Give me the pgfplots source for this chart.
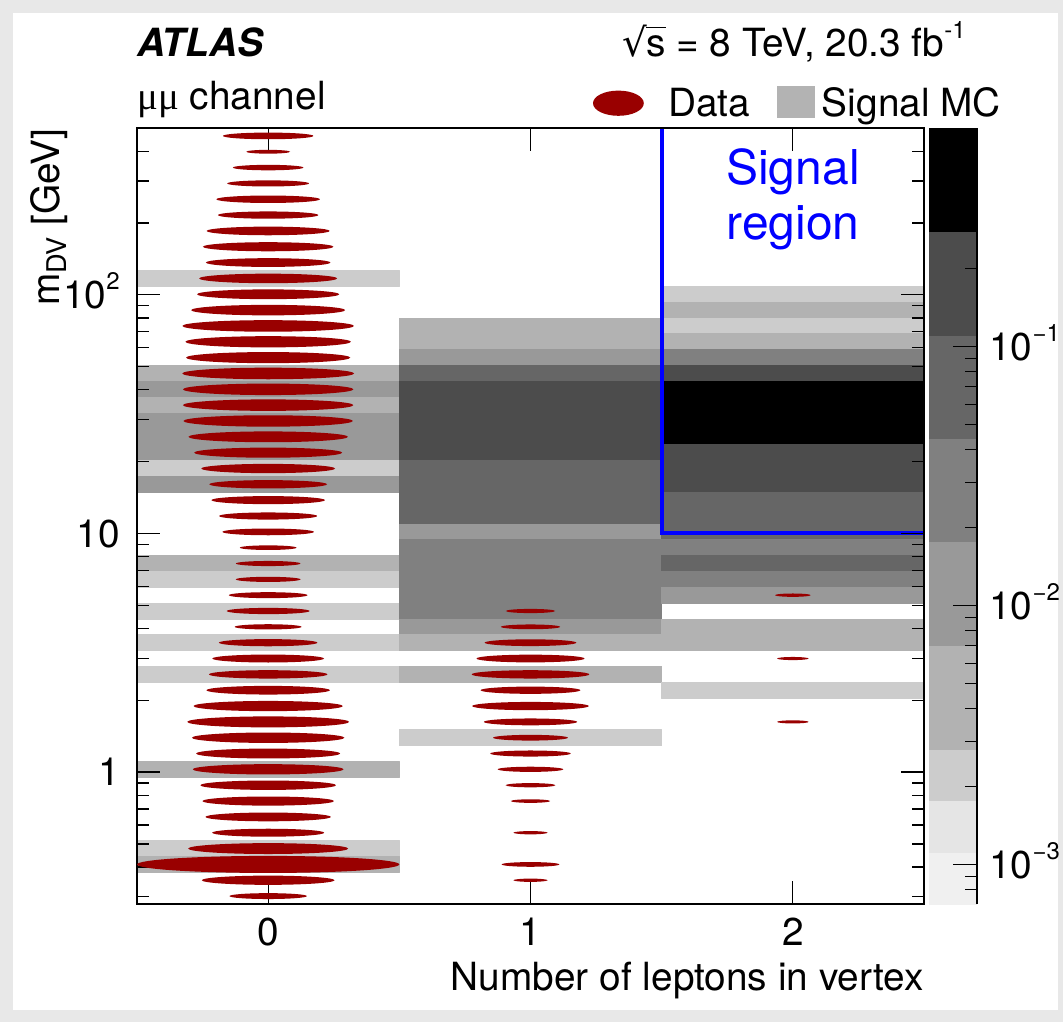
\documentclass[border=0pt]{standalone}
\usepackage{pgfplots}
\pgfplotsset{compat=1.18}
\usepgfplotslibrary{patchplots}
\usepackage{fontspec}
\setmainfont{TeX Gyre Heros}
\newfontfamily\symf{Liberation Serif}
\newfontfamily\djv{DejaVu Sans}
\definecolor{datared}{RGB}{153,0,0}
\definecolor{mcgray}{RGB}{179,179,179}
\definecolor{bgcol}{RGB}{232,232,232}
\newcommand\fs{\fontsize{19.4}{23}\selectfont}
\newcommand\sups[1]{\raisebox{0.48em}{\fontsize{12}{13}\selectfont #1}}
\pgfdeclareplotmark{ell}{%
  \pgfpathellipse{\pgfpointorigin}{\pgfpoint{\ellf*65.58pt}{0pt}}{\pgfpoint{0pt}{\ellf*3.96pt+0.3pt}}%
  \pgfusepathqfill}
\begin{document}
\begin{tikzpicture}[x=1pt,y=1pt]
\useasboundingbox (0,0) rectangle (531.5,511);
\fill[bgcol] (0,0) rectangle (531.5,511);
\fill[white] (6.5,6) rectangle (529,504.5);
\begin{axis}[
  at={(68.5pt,59pt)}, anchor=south west, scale only axis,
  width=393.5pt, height=388pt,
  xmin=-0.5, xmax=2.5, ymode=log, ymin=0.28, ymax=500,
  xtick={0,1,2}, xticklabels={0,1,2},
  ytick={1,10,100}, yticklabels={1,10,10\sups{2}},
  minor ytick={0.3,0.4,0.5,0.6,0.7,0.8,0.9,2,3,4,5,6,7,8,9,20,30,40,50,60,70,80,90,200,300,400},
  tick align=inside, major tick length=11.5pt, minor tick length=6pt,
  axis on top,
  axis line style={line width=0.9pt},
  every tick/.style={black, line width=0.6pt},
  xticklabel style={font=\fs, inner sep=0pt, anchor=north, yshift=-7pt},
  yticklabel style={font=\fs, inner sep=0pt, anchor=base east, xshift=-8.5pt, yshift=-6.9pt},
  xlabel={Number of leptons in vertex},
  xlabel style={font=\fs, at={(axis description cs:1,0)}, anchor=north east, inner sep=0pt, yshift=-29pt},
  ylabel={m\textsubscript{DV} [GeV]},
  ylabel style={font=\fs, at={(axis description cs:-0.098,1)}, anchor=base east, inner sep=0pt},
  legend columns=2,
  legend style={draw=none, fill=none, inner sep=0pt, outer sep=0pt,
    at={(axis description cs:0.5794,1.0126)}, anchor=south west,
    nodes={inner sep=0pt, text depth=0pt, font=\fs}, cells={anchor=base west}},
]
% Signal MC histogram (rectangles; colour = grey level)
\addplot[patch, patch type=rectangle, shader=flat, mesh/color input=explicit,
  point meta=explicit symbolic, forget plot] table[meta=c] {
x y c
-0.5 126.4 rgb=0.8,0.8,0.8
0.5 126.4 rgb=0.8,0.8,0.8
0.5 108.5 rgb=0.8,0.8,0.8
-0.5 108.5 rgb=0.8,0.8,0.8
-0.5 50.53 rgb=0.7,0.7,0.7
0.5 50.53 rgb=0.7,0.7,0.7
0.5 43.36 rgb=0.7,0.7,0.7
-0.5 43.36 rgb=0.7,0.7,0.7
-0.5 43.36 rgb=0.6,0.6,0.6
0.5 43.36 rgb=0.6,0.6,0.6
0.5 37.23 rgb=0.6,0.6,0.6
-0.5 37.23 rgb=0.6,0.6,0.6
-0.5 37.23 rgb=0.7,0.7,0.7
0.5 37.23 rgb=0.7,0.7,0.7
0.5 31.95 rgb=0.7,0.7,0.7
-0.5 31.95 rgb=0.7,0.7,0.7
-0.5 31.95 rgb=0.6,0.6,0.6
0.5 31.95 rgb=0.6,0.6,0.6
0.5 20.20 rgb=0.6,0.6,0.6
-0.5 20.20 rgb=0.6,0.6,0.6
-0.5 20.20 rgb=0.8,0.8,0.8
0.5 20.20 rgb=0.8,0.8,0.8
0.5 17.34 rgb=0.8,0.8,0.8
-0.5 17.34 rgb=0.8,0.8,0.8
-0.5 17.34 rgb=0.6,0.6,0.6
0.5 17.34 rgb=0.6,0.6,0.6
0.5 14.88 rgb=0.6,0.6,0.6
-0.5 14.88 rgb=0.6,0.6,0.6
-0.5 8.075 rgb=0.7,0.7,0.7
0.5 8.075 rgb=0.7,0.7,0.7
0.5 6.930 rgb=0.7,0.7,0.7
-0.5 6.930 rgb=0.7,0.7,0.7
-0.5 6.930 rgb=0.8,0.8,0.8
0.5 6.930 rgb=0.8,0.8,0.8
0.5 5.949 rgb=0.8,0.8,0.8
-0.5 5.949 rgb=0.8,0.8,0.8
-0.5 5.106 rgb=0.8,0.8,0.8
0.5 5.106 rgb=0.8,0.8,0.8
0.5 4.382 rgb=0.8,0.8,0.8
-0.5 4.382 rgb=0.8,0.8,0.8
-0.5 3.762 rgb=0.8,0.8,0.8
0.5 3.762 rgb=0.8,0.8,0.8
0.5 3.228 rgb=0.8,0.8,0.8
-0.5 3.228 rgb=0.8,0.8,0.8
-0.5 2.771 rgb=0.8,0.8,0.8
0.5 2.771 rgb=0.8,0.8,0.8
0.5 2.378 rgb=0.8,0.8,0.8
-0.5 2.378 rgb=0.8,0.8,0.8
-0.5 1.108 rgb=0.7,0.7,0.7
0.5 1.108 rgb=0.7,0.7,0.7
0.5 0.9508 rgb=0.7,0.7,0.7
-0.5 0.9508 rgb=0.7,0.7,0.7
-0.5 0.5159 rgb=0.8,0.8,0.8
0.5 0.5159 rgb=0.8,0.8,0.8
0.5 0.4428 rgb=0.8,0.8,0.8
-0.5 0.4428 rgb=0.8,0.8,0.8
-0.5 0.4428 rgb=0.7,0.7,0.7
0.5 0.4428 rgb=0.7,0.7,0.7
0.5 0.3801 rgb=0.7,0.7,0.7
-0.5 0.3801 rgb=0.7,0.7,0.7
0.5 79.91 rgb=0.7,0.7,0.7
1.5 79.91 rgb=0.7,0.7,0.7
1.5 58.87 rgb=0.7,0.7,0.7
0.5 58.87 rgb=0.7,0.7,0.7
0.5 58.87 rgb=0.6,0.6,0.6
1.5 58.87 rgb=0.6,0.6,0.6
1.5 50.53 rgb=0.6,0.6,0.6
0.5 50.53 rgb=0.6,0.6,0.6
0.5 50.53 rgb=0.4,0.4,0.4
1.5 50.53 rgb=0.4,0.4,0.4
1.5 43.36 rgb=0.4,0.4,0.4
0.5 43.36 rgb=0.4,0.4,0.4
0.5 43.36 rgb=0.3,0.3,0.3
1.5 43.36 rgb=0.3,0.3,0.3
1.5 20.20 rgb=0.3,0.3,0.3
0.5 20.20 rgb=0.3,0.3,0.3
0.5 20.20 rgb=0.4,0.4,0.4
1.5 20.20 rgb=0.4,0.4,0.4
1.5 10.96 rgb=0.4,0.4,0.4
0.5 10.96 rgb=0.4,0.4,0.4
0.5 10.96 rgb=0.6,0.6,0.6
1.5 10.96 rgb=0.6,0.6,0.6
1.5 9.408 rgb=0.6,0.6,0.6
0.5 9.408 rgb=0.6,0.6,0.6
0.5 9.408 rgb=0.5,0.5,0.5
1.5 9.408 rgb=0.5,0.5,0.5
1.5 4.382 rgb=0.5,0.5,0.5
0.5 4.382 rgb=0.5,0.5,0.5
0.5 4.382 rgb=0.6,0.6,0.6
1.5 4.382 rgb=0.6,0.6,0.6
1.5 3.762 rgb=0.6,0.6,0.6
0.5 3.762 rgb=0.6,0.6,0.6
0.5 3.762 rgb=0.7,0.7,0.7
1.5 3.762 rgb=0.7,0.7,0.7
1.5 3.228 rgb=0.7,0.7,0.7
0.5 3.228 rgb=0.7,0.7,0.7
0.5 2.771 rgb=0.7,0.7,0.7
1.5 2.771 rgb=0.7,0.7,0.7
1.5 2.378 rgb=0.7,0.7,0.7
0.5 2.378 rgb=0.7,0.7,0.7
0.5 1.504 rgb=0.8,0.8,0.8
1.5 1.504 rgb=0.8,0.8,0.8
1.5 1.291 rgb=0.8,0.8,0.8
0.5 1.291 rgb=0.8,0.8,0.8
1.5 108.5 rgb=0.8,0.8,0.8
2.5 108.5 rgb=0.8,0.8,0.8
2.5 93.11 rgb=0.8,0.8,0.8
1.5 93.11 rgb=0.8,0.8,0.8
1.5 93.11 rgb=0.7,0.7,0.7
2.5 93.11 rgb=0.7,0.7,0.7
2.5 79.91 rgb=0.7,0.7,0.7
1.5 79.91 rgb=0.7,0.7,0.7
1.5 79.91 rgb=0.8,0.8,0.8
2.5 79.91 rgb=0.8,0.8,0.8
2.5 68.59 rgb=0.8,0.8,0.8
1.5 68.59 rgb=0.8,0.8,0.8
1.5 68.59 rgb=0.7,0.7,0.7
2.5 68.59 rgb=0.7,0.7,0.7
2.5 58.87 rgb=0.7,0.7,0.7
1.5 58.87 rgb=0.7,0.7,0.7
1.5 58.87 rgb=0.5,0.5,0.5
2.5 58.87 rgb=0.5,0.5,0.5
2.5 50.53 rgb=0.5,0.5,0.5
1.5 50.53 rgb=0.5,0.5,0.5
1.5 50.53 rgb=0.3,0.3,0.3
2.5 50.53 rgb=0.3,0.3,0.3
2.5 43.36 rgb=0.3,0.3,0.3
1.5 43.36 rgb=0.3,0.3,0.3
1.5 43.36 rgb=0,0,0
2.5 43.36 rgb=0,0,0
2.5 23.53 rgb=0,0,0
1.5 23.53 rgb=0,0,0
1.5 23.53 rgb=0.3,0.3,0.3
2.5 23.53 rgb=0.3,0.3,0.3
2.5 14.88 rgb=0.3,0.3,0.3
1.5 14.88 rgb=0.3,0.3,0.3
1.5 14.88 rgb=0.4,0.4,0.4
2.5 14.88 rgb=0.4,0.4,0.4
2.5 9.408 rgb=0.4,0.4,0.4
1.5 9.408 rgb=0.4,0.4,0.4
1.5 9.408 rgb=0.5,0.5,0.5
2.5 9.408 rgb=0.5,0.5,0.5
2.5 8.075 rgb=0.5,0.5,0.5
1.5 8.075 rgb=0.5,0.5,0.5
1.5 8.075 rgb=0.4,0.4,0.4
2.5 8.075 rgb=0.4,0.4,0.4
2.5 6.930 rgb=0.4,0.4,0.4
1.5 6.930 rgb=0.4,0.4,0.4
1.5 6.930 rgb=0.5,0.5,0.5
2.5 6.930 rgb=0.5,0.5,0.5
2.5 5.949 rgb=0.5,0.5,0.5
1.5 5.949 rgb=0.5,0.5,0.5
1.5 5.949 rgb=0.6,0.6,0.6
2.5 5.949 rgb=0.6,0.6,0.6
2.5 5.106 rgb=0.6,0.6,0.6
1.5 5.106 rgb=0.6,0.6,0.6
1.5 4.382 rgb=0.7,0.7,0.7
2.5 4.382 rgb=0.7,0.7,0.7
2.5 3.228 rgb=0.7,0.7,0.7
1.5 3.228 rgb=0.7,0.7,0.7
1.5 2.378 rgb=0.8,0.8,0.8
2.5 2.378 rgb=0.8,0.8,0.8
2.5 2.041 rgb=0.8,0.8,0.8
1.5 2.041 rgb=0.8,0.8,0.8
};
% Data: ellipses, size fraction f of the bin
\addplot[only marks, mark=ell, forget plot,
  visualization depends on={\thisrow{f}\as\ellf},
  mark options={draw=none, fill=datared}] table {
x y f
0 463.2 0.345
0 397.6 0.167
0 341.3 0.269
0 292.9 0.312
0 251.4 0.395
0 215.8 0.383
0 185.2 0.469
0 159.0 0.497
0 136.5 0.475
0 117.1 0.526
0 100.5 0.542
0 86.26 0.587
0 74.04 0.654
0 63.55 0.631
0 54.54 0.626
0 46.81 0.655
0 40.17 0.650
0 34.49 0.650
0 29.60 0.646
0 25.40 0.608
0 21.80 0.564
0 18.71 0.510
0 16.07 0.449
0 13.79 0.433
0 11.83 0.374
0 10.15 0.349
0 8.716 0.216
0 7.481 0.246
0 6.420 0.247
0 5.512 0.300
0 4.731 0.316
0 4.060 0.255
0 3.485 0.376
0 2.991 0.426
0 2.567 0.452
0 2.203 0.471
0 1.891 0.569
0 1.623 0.617
0 1.393 0.581
0 1.196 0.549
0 1.027 0.575
0 0.8809 0.517
0 0.7560 0.501
0 0.6488 0.478
0 0.5570 0.427
0 0.4780 0.610
0 0.4102 1.000
0 0.3522 0.506
0 0.3022 0.295
1 4.731 0.188
1 4.060 0.226
1 3.485 0.350
1 2.991 0.412
1 2.567 0.449
1 2.203 0.381
1 1.891 0.445
1 1.623 0.356
1 1.393 0.285
1 1.196 0.307
1 1.027 0.250
1 0.8809 0.190
1 0.7560 0.150
1 0.5570 0.130
1 0.4102 0.220
1 0.3522 0.130
2 5.512 0.136
2 2.991 0.120
2 1.623 0.120
};
% signal region boundary
\addplot[blue, line width=2pt, line join=miter, forget plot] coordinates {(1.5,500) (1.5,10) (2.5,10)};
\addlegendimage{legend image code/.code={\path[draw=none,fill=none] (0pt,0pt) rectangle (37.5pt,0pt); \fill[datared,draw=none] (12.7pt,6.5pt) ellipse [x radius=12.7pt, y radius=6.3pt];}}
\addlegendentry{Data}
\addlegendimage{legend image code/.code={\path[draw=none,fill=none] (0pt,0pt) rectangle (36pt,0pt); \fill[mcgray,draw=none] (13.5pt,-1pt) rectangle (32.5pt,15pt);}}
\addlegendentry{Signal MC}
\end{axis}
% colour scale
\begin{axis}[
  at={(464.5pt,59pt)}, anchor=south west, scale only axis,
  width=24pt, height=388pt,
  xmin=0, xmax=1, ymode=log, ymin=0.000705, ymax=0.699,
  axis x line=none, axis y line*=right,
  ytick={0.001,0.01,0.1}, yticklabels={10\sups{−3},10\sups{−2},10\sups{−1}},
  minor ytick={0.0008,0.0009,0.002,0.003,0.004,0.005,0.006,0.007,0.008,0.009,0.02,0.03,0.04,0.05,0.06,0.07,0.08,0.09,0.2,0.3,0.4,0.5,0.6},
  tick align=inside, major tick length=12pt, minor tick length=6pt,
  axis on top,
  axis line style={line width=0.9pt},
  every tick/.style={black, line width=0.6pt},
  yticklabel style={font=\fs, inner sep=0pt, anchor=base west, xshift=6pt, yshift=-6.9pt},
]
\addplot[patch, patch type=rectangle, shader=flat, mesh/color input=explicit,
  point meta=explicit symbolic] table[meta=c] {
x y c
0 0.699 rgb=0,0,0
1 0.699 rgb=0,0,0
1 0.2755 rgb=0,0,0
0 0.2755 rgb=0,0,0
0 0.2755 rgb=0.3,0.3,0.3
1 0.2755 rgb=0.3,0.3,0.3
1 0.110 rgb=0.3,0.3,0.3
0 0.110 rgb=0.3,0.3,0.3
0 0.110 rgb=0.4,0.4,0.4
1 0.110 rgb=0.4,0.4,0.4
1 0.04405 rgb=0.4,0.4,0.4
0 0.04405 rgb=0.4,0.4,0.4
0 0.04405 rgb=0.5,0.5,0.5
1 0.04405 rgb=0.5,0.5,0.5
1 0.0175 rgb=0.5,0.5,0.5
0 0.0175 rgb=0.5,0.5,0.5
0 0.0175 rgb=0.6,0.6,0.6
1 0.0175 rgb=0.6,0.6,0.6
1 0.00699 rgb=0.6,0.6,0.6
0 0.00699 rgb=0.6,0.6,0.6
0 0.00699 rgb=0.7,0.7,0.7
1 0.00699 rgb=0.7,0.7,0.7
1 0.00277 rgb=0.7,0.7,0.7
0 0.00277 rgb=0.7,0.7,0.7
0 0.00277 rgb=0.8,0.8,0.8
1 0.00277 rgb=0.8,0.8,0.8
1 0.00175 rgb=0.8,0.8,0.8
0 0.00175 rgb=0.8,0.8,0.8
0 0.00175 rgb=0.9,0.9,0.9
1 0.00175 rgb=0.9,0.9,0.9
1 0.00111 rgb=0.9,0.9,0.9
0 0.00111 rgb=0.9,0.9,0.9
0 0.00111 rgb=0.94,0.94,0.94
1 0.00111 rgb=0.94,0.94,0.94
1 0.000705 rgb=0.94,0.94,0.94
0 0.000705 rgb=0.94,0.94,0.94
};
\end{axis}
\node[anchor=base west, inner sep=0pt] at (68.5,482.5) {\fs\bfseries\itshape ATLAS};
\node[anchor=base east, inner sep=0pt] at (483,482.5) {\fs{\djv √}\kern-0.6pt\rlap{\rule[14.3pt]{10pt}{0.8pt}}s = 8 TeV, 20.3 fb\sups{-1}};
\node[anchor=base west, inner sep=0pt] at (68.5,456) {\fs{\symf μμ} channel};
\node[anchor=base, inner sep=0pt, text=blue] at (396.5,418.5) {\fontsize{24}{28}\selectfont Signal};
\node[anchor=base, inner sep=0pt, text=blue] at (396.5,391) {\fontsize{24}{28}\selectfont region};
\end{tikzpicture}
\end{document}
